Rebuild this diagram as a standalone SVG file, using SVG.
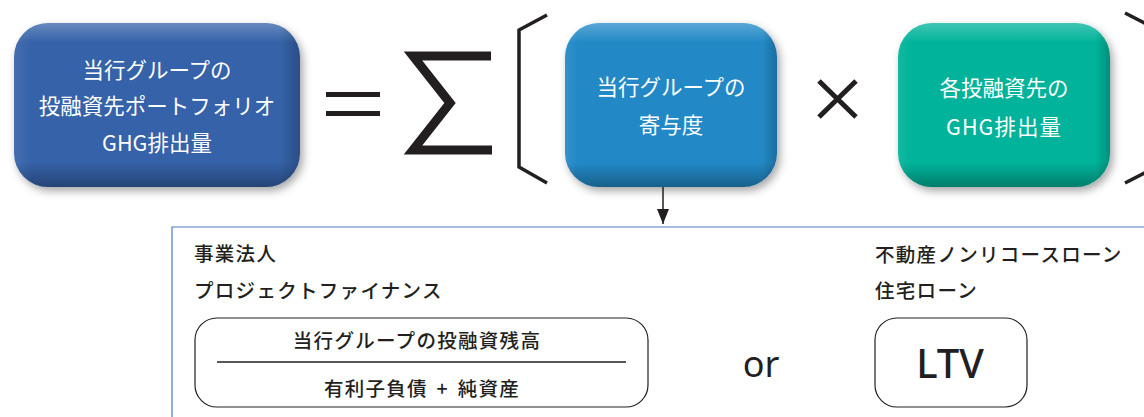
<svg xmlns="http://www.w3.org/2000/svg" width="1144" height="417" viewBox="0 0 1144 417">
<style>
.jp{font-family:"Noto Sans CJK JP","Noto Sans",sans-serif}
.wt{fill:#ffffff;font-size:21.5px;text-anchor:middle}
.bk{fill:#231f20;font-size:19.5px;font-weight:500;letter-spacing:1.3px}
.frm{fill:#ffffff;stroke:#231f20;stroke-width:1.2}
.br{fill:none;stroke:#231f20;stroke-width:3.5;stroke-linejoin:miter}
</style>
<defs>
<filter id="sh" x="-10%" y="-10%" width="125%" height="130%">
<feDropShadow dx="3" dy="4" stdDeviation="4" flood-color="#000" flood-opacity="0.35"/>
</filter>
<linearGradient id="bev" x1="0" y1="0" x2="0" y2="1">
<stop offset="0" stop-color="#ffffff" stop-opacity="0.25"/>
<stop offset="0.12" stop-color="#ffffff" stop-opacity="0"/>
<stop offset="0.85" stop-color="#000000" stop-opacity="0"/>
<stop offset="1" stop-color="#000000" stop-opacity="0.3"/>
</linearGradient>
<linearGradient id="bevh" x1="0" y1="0" x2="1" y2="0">
<stop offset="0" stop-color="#ffffff" stop-opacity="0.08"/>
<stop offset="0.06" stop-color="#ffffff" stop-opacity="0"/>
<stop offset="0.93" stop-color="#000000" stop-opacity="0"/>
<stop offset="1" stop-color="#000000" stop-opacity="0.2"/>
</linearGradient>
<marker id="ah" viewBox="0 0 15 12" refX="15" refY="6" markerWidth="15" markerHeight="12" markerUnits="userSpaceOnUse" orient="auto">
<path d="M0,0 L15,6 L0,12 Z" fill="#231f20"/>
</marker>
</defs>

<g id="node-portfolio">
<rect x="14" y="23" width="286" height="164" rx="34" fill="#3562a8" filter="url(#sh)"/>
<rect x="14" y="23" width="286" height="164" rx="34" fill="url(#bev)"/>
<rect x="14" y="23" width="286" height="164" rx="34" fill="url(#bevh)"/>
<text class="jp wt" x="157" y="78">当行グループの</text>
<text class="jp wt" x="157" y="114">投融資先ポートフォリオ</text>
<text class="jp wt" x="157" y="151">GHG排出量</text>
</g>

<g id="eq">
<rect x="326" y="92" width="54" height="5" fill="#231f20"/>
<rect x="326" y="111" width="54" height="5" fill="#231f20"/>
</g>

<g id="sigma">
<path d="M491,56 L413,56 L450,103 L413,150 L492,150" fill="none" stroke="#231f20" stroke-width="9" stroke-linejoin="miter"/>
</g>

<g id="brackets">
<path class="br" d="M547,15 L519,30 L519,167 L547,183"/>
<path class="br" d="M1125,13 L1154,28 L1154,168 L1125,183"/>
</g>

<g id="node-contribution">
<rect x="565" y="23" width="212" height="164" rx="34" fill="#2289c6" filter="url(#sh)"/>
<rect x="565" y="23" width="212" height="164" rx="34" fill="url(#bev)"/>
<rect x="565" y="23" width="212" height="164" rx="34" fill="url(#bevh)"/>
<text class="jp wt" x="671" y="95">当行グループの</text>
<text class="jp wt" x="671" y="133">寄与度</text>
</g>

<g id="times">
<path d="M819,81 L856,117 M856,81 L819,117" stroke="#231f20" stroke-width="5" fill="none"/>
</g>

<g id="node-emissions">
<rect x="898" y="23" width="212" height="164" rx="34" fill="#00b39a" filter="url(#sh)"/>
<rect x="898" y="23" width="212" height="164" rx="34" fill="url(#bev)"/>
<rect x="898" y="23" width="212" height="164" rx="34" fill="url(#bevh)"/>
<text class="jp wt" x="1004" y="96">各投融資先の</text>
<text class="jp wt" x="1004" y="135" letter-spacing="1">GHG排出量</text>
</g>

<g id="connectors">
<line x1="663" y1="187" x2="663" y2="224" stroke="#231f20" stroke-width="1.5" marker-end="url(#ah)"/>
</g>

<g id="panel">
<path d="M172,417 L172,227 L1144,227" fill="none" stroke="#4a7cc0" stroke-width="1.2"/>
<text class="jp bk" x="194" y="261">事業法人</text>
<text class="jp bk" x="194" y="298">プロジェクトファイナンス</text>
<text class="jp bk" x="875" y="262" letter-spacing="1.8">不動産ノンリコースローン</text>
<text class="jp bk" x="875" y="298">住宅ローン</text>
<text x="761" y="377" font-family="'Noto Sans',sans-serif" font-size="36" fill="#231f20" text-anchor="middle">or</text>
</g>

<g id="node-formula">
<rect class="frm" x="195" y="318" width="453" height="89" rx="22"/>
<line x1="217" y1="362" x2="626" y2="362" stroke="#231f20" stroke-width="1.3"/>
<text class="jp bk" x="417" y="348" text-anchor="middle" font-size="20.5" letter-spacing="0.6">当行グループの投融資残高</text>
<text class="jp bk" x="422" y="396" text-anchor="middle" font-size="20.5" letter-spacing="1.6" word-spacing="3" xml:space="preserve">有利子負債 + 純資産</text>
</g>

<g id="node-ltv">
<rect class="frm" x="875" y="318" width="152" height="89" rx="22"/>
<text x="950" y="378" font-family="'Noto Sans',sans-serif" font-size="40" font-weight="500" fill="#231f20" text-anchor="middle">LTV</text>
</g>
</svg>
